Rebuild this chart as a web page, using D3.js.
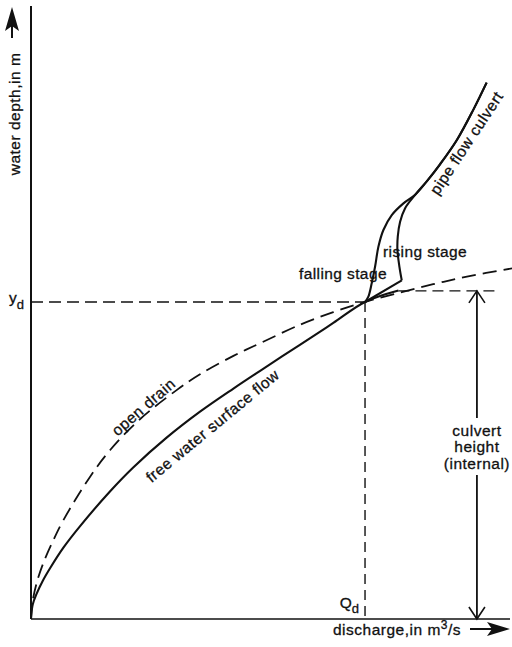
<!DOCTYPE html>
<html>
<head>
<meta charset="utf-8">
<script src="https://cdn.jsdelivr.net/npm/d3@7"></script>
<style>
  body { margin: 0; background: #fff; }
  svg { display: block; }
  text { font-family: "Liberation Sans", Arial, sans-serif; fill: #111; stroke: #111; stroke-width: 0.3; }
</style>
</head>
<body>
<svg id="chart" width="512" height="647"></svg>
<script>
// Discharge expressed relative to the design discharge Qd, depth relative to the design depth yd.
const freeSurface = [[0,0],[0.005,0.045],[0.017,0.08],[0.035,0.12],[0.057,0.16],[0.097,0.225],
  [0.147,0.293],[0.237,0.403],[0.306,0.478],[0.406,0.572],[0.506,0.654],[0.606,0.727],
  [0.686,0.783],[0.805,0.865],[0.905,0.934],[1.0,1.0],[1.1,1.036]];
const openDrain = [[0,0],[0.004,0.05],[0.017,0.114],[0.037,0.177],[0.067,0.249],[0.097,0.312],
  [0.177,0.449],[0.237,0.533],[0.326,0.63],[0.436,0.722],[0.506,0.772],[0.606,0.83],
  [0.686,0.87],[0.805,0.928],[0.905,0.968],[1.0,1.0],[1.105,1.03],[1.204,1.056],
  [1.305,1.08],[1.44,1.106]];
const fallingStage = [[1.0,1.0],[1.01,1.017],[1.02,1.059],[1.03,1.111],[1.04,1.174],
  [1.055,1.227],[1.08,1.274],[1.115,1.311],[1.15,1.338]];
const risingJump = [[1.0,1.0],[1.11,1.068]];
const risingStage = [[1.11,1.068],[1.103,1.111],[1.097,1.164],[1.098,1.206],[1.105,1.253],
  [1.12,1.296],[1.15,1.338]];
const pipeFlow = [[1.15,1.338],[1.186,1.382],[1.225,1.435],[1.275,1.511],[1.324,1.606],[1.364,1.692]];

const designQ = 1.0;        // Qd
const designDepth = 1.0;    // yd
const culvertTop = 1.035;   // internal culvert height
const culvertTopStart = 1.1;
const culvertTopEnd = 1.39;
const culvertArrowQ = 1.335;

const svg = d3.select("#chart");
const x = d3.scaleLinear().domain([0, 1.44]).range([31, 512]);
const y = d3.scaleLinear().domain([0, 1.94]).range([619, 4]);

const smooth = d3.line().x(d => x(d[0])).y(d => y(d[1])).curve(d3.curveCatmullRom.alpha(0.5));
const straight = d3.line().x(d => x(d[0])).y(d => y(d[1]));

// Axes
svg.append("line").attr("x1", x(0)).attr("x2", x(0)).attr("y1", 6).attr("y2", y(0))
  .attr("stroke", "#111").attr("stroke-width", 2);
svg.append("line").attr("x1", x(0)).attr("x2", 510).attr("y1", y(0)).attr("y2", y(0))
  .attr("stroke", "#111").attr("stroke-width", 1.6);

// Reference lines at the design point
svg.append("line").attr("x1", x(0)).attr("x2", x(designQ)).attr("y1", y(designDepth)).attr("y2", y(designDepth))
  .attr("stroke", "#111").attr("stroke-width", 1.4).attr("stroke-dasharray", "12,6");
svg.append("line").attr("x1", x(designQ)).attr("x2", x(designQ)).attr("y1", y(designDepth)).attr("y2", y(0))
  .attr("stroke", "#111").attr("stroke-width", 1.4).attr("stroke-dasharray", "10,6");
svg.append("line").attr("x1", x(culvertTopStart)).attr("x2", x(culvertTopEnd)).attr("y1", y(culvertTop)).attr("y2", y(culvertTop))
  .attr("stroke", "#111").attr("stroke-width", 1.4).attr("stroke-dasharray", "11,6");

// Rating curves: free surface, open drain, and the culvert's hysteresis loop into pipe flow
svg.append("path").attr("d", smooth(openDrain)).attr("fill", "none").attr("stroke", "#111")
  .attr("stroke-width", 1.8).attr("stroke-dasharray", "14,7");
const solid = [
  smooth(freeSurface),
  smooth(fallingStage.concat(pipeFlow.slice(1))),
  straight(risingJump),
  smooth(risingStage.concat(pipeFlow.slice(1)))
];
solid.forEach(d => svg.append("path").attr("d", d).attr("fill", "none").attr("stroke", "#111")
  .attr("stroke-width", 2.1).attr("stroke-linejoin", "miter"));

// Culvert height dimension arrow
const ax = x(culvertArrowQ);
svg.append("line").attr("x1", ax).attr("x2", ax).attr("y1", y(culvertTop)).attr("y2", 418)
  .attr("stroke", "#111").attr("stroke-width", 1.8);
svg.append("line").attr("x1", ax).attr("x2", ax).attr("y1", 475).attr("y2", y(0))
  .attr("stroke", "#111").attr("stroke-width", 1.8);
svg.append("path").attr("d", `M${ax-8},${y(culvertTop)+12}L${ax},${y(culvertTop)}L${ax+8},${y(culvertTop)+12}`)
  .attr("fill", "none").attr("stroke", "#111").attr("stroke-width", 1.6);
svg.append("path").attr("d", `M${ax-8},${y(0)-12}L${ax},${y(0)}L${ax+8},${y(0)-12}`)
  .attr("fill", "none").attr("stroke", "#111").attr("stroke-width", 1.6);
const dim = svg.append("text").attr("text-anchor", "middle").attr("font-size", 15.5).attr("letter-spacing", 0.5);
[["culvert", 436], ["height", 452], ["(internal)", 469]].forEach(([t, b]) =>
  dim.append("tspan").attr("x", ax).attr("y", b).text(t));

// Axis direction arrows
svg.append("path").attr("d", "M12,7L19,31L12,26L5,31Z").attr("fill", "#111");
svg.append("line").attr("x1", 12).attr("x2", 12).attr("y1", 26).attr("y2", 38).attr("stroke", "#111").attr("stroke-width", 2);
svg.append("path").attr("d", "M510,629L487,622L492,629L487,636Z").attr("fill", "#111");
svg.append("line").attr("x1", 470).attr("x2", 492).attr("y1", 629).attr("y2", 629).attr("stroke", "#111").attr("stroke-width", 2);

// Axis titles
svg.append("text").attr("transform", "translate(20,114) rotate(-90)").attr("text-anchor", "middle")
  .attr("font-size", 15.5).attr("letter-spacing", 0.5).text("water depth,in m");
const xt = svg.append("text").attr("x", 333).attr("y", 635).attr("font-size", 15.5).attr("letter-spacing", 0.5);
xt.append("tspan").text("discharge,in m");
xt.append("tspan").attr("font-size", 12).attr("dy", -6).text("3");
xt.append("tspan").attr("dy", 6).text("/s");

// Design point labels
const qd = svg.append("text").attr("x", x(designQ) - 6).attr("y", 608).attr("text-anchor", "end").attr("font-size", 15.5);
qd.append("tspan").text("Q");
qd.append("tspan").attr("font-size", 13).attr("dy", 5).text("d");
const yd = svg.append("text").attr("x", 9).attr("y", y(designDepth) + 1).attr("font-size", 15.5);
yd.append("tspan").text("y");
yd.append("tspan").attr("font-size", 13).attr("dy", 6).text("d");

// Curve labels
function curveLabel(text, cx, cy, angle) {
  svg.append("text").attr("transform", `translate(${cx},${cy}) rotate(${angle})`)
    .attr("text-anchor", "middle").attr("font-size", 15.5).attr("letter-spacing", 0.5).text(text);
}
curveLabel("open drain", 147, 411, -41);
curveLabel("free water surface flow", 216, 430, -39.5);
curveLabel("pipe flow culvert", 471, 146, -56.5);
svg.append("text").attr("x", 299).attr("y", 279).attr("font-size", 15.5).attr("letter-spacing", 0.4).text("falling stage");
svg.append("text").attr("x", 383).attr("y", 257).attr("font-size", 15.5).attr("letter-spacing", 0.4).text("rising stage");
</script>
</body>
</html>
